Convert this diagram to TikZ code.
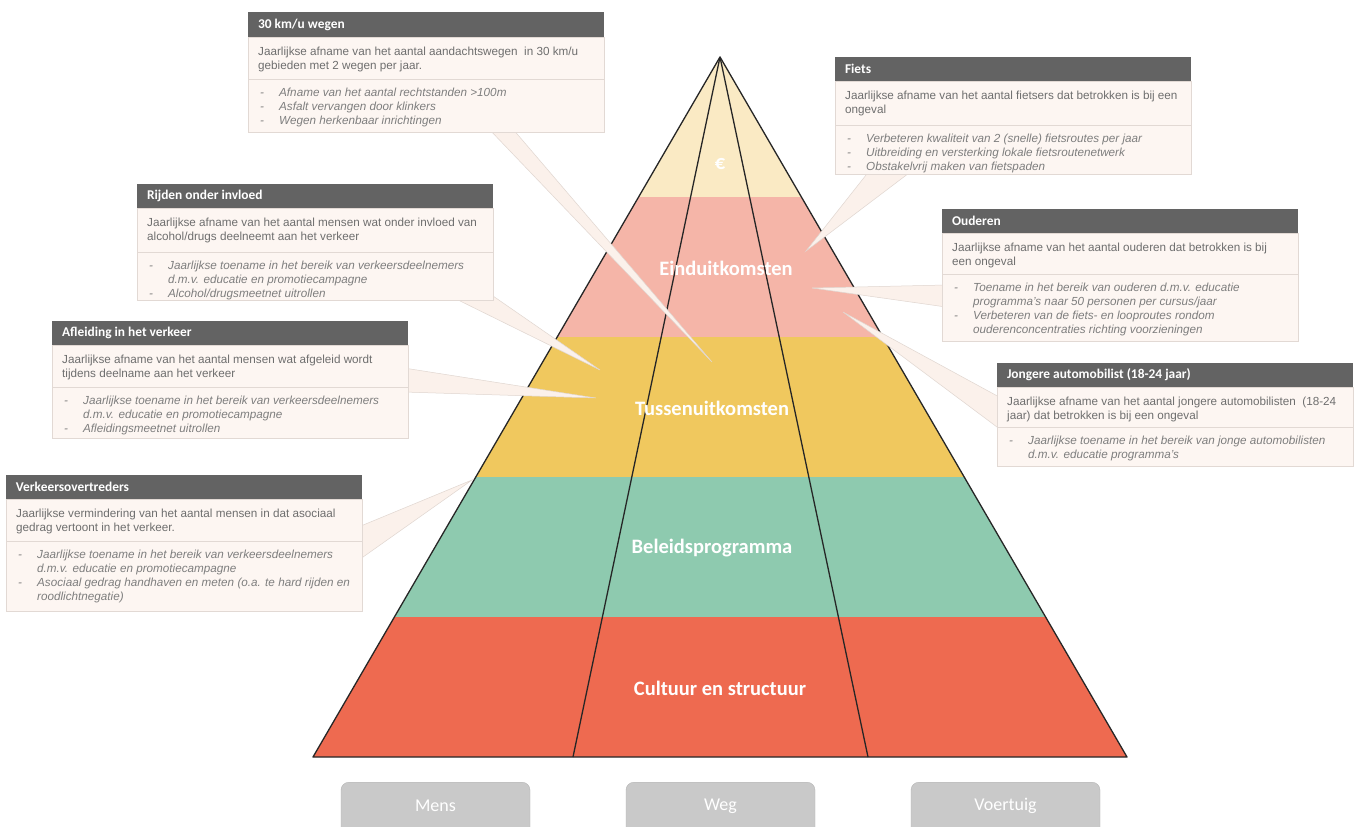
\documentclass[tikz,border=0pt]{standalone}
\usepackage{fontspec}
\setmainfont{Liberation Sans}
\newfontfamily\carlito{Carlito}
\usetikzlibrary{fit}
\definecolor{hdrgrey}{HTML}{636363}
\definecolor{bodyfill}{HTML}{FDF6F2}
\definecolor{bodyline}{HTML}{E2D9D4}
\definecolor{txtgrey}{HTML}{6E6E6E}
\definecolor{bulgrey}{HTML}{7E7E7E}
\definecolor{wedgefill}{HTML}{FBF1EB}
\definecolor{wedgeline}{HTML}{E0D6D0}
\definecolor{bandA}{HTML}{FAEAC4}
\definecolor{bandB}{HTML}{F5B5A8}
\definecolor{bandC}{HTML}{F0C85E}
\definecolor{bandD}{HTML}{8ECAAF}
\definecolor{bandE}{HTML}{EE6A50}
\definecolor{btngrey}{HTML}{C9C9C9}
\newcommand\bl[1]{\makebox[19pt][l]{-}#1}
\newcommand\bc[1]{\hspace*{19pt}#1}
\newcommand\callbox[9]{%
  \node[hdrbox, fit={(#2,#3)(#2+356,#4)}] (#1h) {};
  \node[secbox, fit={(#2,#4)(#2+356,#5)}] (#1a) {};
  \node[secbox, fit={(#2,#5)(#2+356,#6)}] (#1b) {};
  \node[titletxt, anchor=west] (#1t) at ([xshift=10pt]#1h.west) {#7};
  \node[bodytxt, anchor=north west] (#1p) at (#2+10,#4+9.5) {\rule{0pt}{9pt}#8};
  \node[bultxt, anchor=north west] (#1q) at (#2+12,#5+8) {\rule{0pt}{9pt}#9};
}
\tikzset{
  hdrbox/.style={fill=hdrgrey, draw=none, inner sep=0pt},
  secbox/.style={fill=bodyfill, draw=bodyline, line width=0.7pt, inner sep=0pt},
  titletxt/.style={font=\carlito\bfseries\fontsize{13.4}{15}\selectfont, text=white, inner sep=0pt},
  bodytxt/.style={font=\fontsize{11.7}{14}\selectfont, text=txtgrey, align=left, inner sep=0pt},
  bultxt/.style={font=\itshape\fontsize{11.7}{14}\selectfont, text=bulgrey, align=left, inner sep=0pt},
  wedge/.style={fill=wedgefill, draw=wedgeline, line width=0.5pt},
  pyrline/.style={draw=black!85, line width=1.3pt, line join=round},
  bandlabel/.style={font=\carlito\bfseries\fontsize{20.5}{23}\selectfont, text=white, inner sep=0pt},
  btn/.style={fill=btngrey, draw=btngrey!90!black, line width=0.4pt, rounded corners=8pt, minimum width=189pt, minimum height=56pt, anchor=north, inner sep=0pt},
  btntxt/.style={font=\carlito\fontsize{18}{20}\selectfont, text=white, inner sep=0pt}
}
\begin{document}
\begin{tikzpicture}[x=1pt,y=-1pt]
\useasboundingbox (0,0) rectangle (1355,827);
\clip (0,0) rectangle (1355,827);
\fill[white] (0,0) rectangle (1355,827);
% pyramid
\coordinate (A) at (720,57);
\coordinate (BL) at (313,757);
\coordinate (BR) at (1127,757);
\coordinate (M1) at (573,757);
\coordinate (M2) at (868,757);
\begin{scope}
\clip (A) -- (BL) -- (BR) -- cycle;
\fill[bandA] (300,50) rectangle (1140,197.5);
\fill[bandB] (300,197) rectangle (1140,337.5);
\fill[bandC] (300,337) rectangle (1140,477.5);
\fill[bandD] (300,477) rectangle (1140,617.5);
\fill[bandE] (300,617) rectangle (1140,760);
\end{scope}
\draw[pyrline] (A) -- (BL) -- (BR) -- cycle;
\draw[pyrline] (A) -- (M1);
\draw[pyrline] (A) -- (M2);
\node[bandlabel] (lab0) at (720,164) {€};
\node[bandlabel] (lab1) at (726,268) {Einduitkomsten};
\node[bandlabel] (lab2) at (712,408) {Tussenuitkomsten};
\node[bandlabel] (lab3) at (712,548) {Beleidsprogramma};
\node[bandlabel] (lab4) at (720,688) {Cultuur en structuur};
% wedge tips
\coordinate (t1) at (712,362);
\coordinate (t2) at (806,251);
\coordinate (t3) at (600,370);
\coordinate (t4) at (596,398);
\coordinate (t5) at (812,288);
\coordinate (t6) at (843,312);
\coordinate (t7) at (472,480);
\fill[wedge] (488,128) -- (t1) -- (512,128);
\fill[wedge] (870,170) -- (t2) -- (913,170);
\fill[wedge] (450,296) -- (t3) -- (493,296);
\fill[wedge] (404,368) -- (t4) -- (404,392);
\fill[wedge] (946,285) -- (t5) -- (946,307);
\fill[wedge] (1001,398) -- (t6) -- (1001,430);
\fill[wedge] (356,528) -- (t7) -- (356,562);
% callout boxes
\callbox{b1}{248}{12}{37}{79}{132}{30 km/u wegen}
  {Jaarlijkse afname van het aantal aandachtswegen \ in 30 km/u\\gebieden met 2 wegen per jaar.}
  {\bl{Afname van het aantal rechtstanden >100m}\\\bl{Asfalt vervangen door klinkers}\\\bl{Wegen herkenbaar inrichtingen}}
\callbox{b2}{835}{57}{81}{125}{174}{Fiets}
  {Jaarlijkse afname van het aantal fietsers dat betrokken is bij een\\ongeval}
  {\bl{Verbeteren kwaliteit van 2 (snelle) fietsroutes per jaar}\\\bl{Uitbreiding en versterking lokale fietsroutenetwerk}\\\bl{Obstakelvrij maken van fietspaden}}
\callbox{b3}{137}{184}{208}{252}{300}{Rijden onder invloed}
  {Jaarlijkse afname van het aantal mensen wat onder invloed van\\alcohol/drugs deelneemt aan het verkeer}
  {\bl{Jaarlijkse toename in het bereik van verkeersdeelnemers}\\\bc{d.m.v. educatie en promotiecampagne}\\\bl{Alcohol/drugsmeetnet uitrollen}}
\callbox{b4}{52}{321}{345}{387}{438}{Afleiding in het verkeer}
  {Jaarlijkse afname van het aantal mensen wat afgeleid wordt\\tijdens deelname aan het verkeer}
  {\bl{Jaarlijkse toename in het bereik van verkeersdeelnemers}\\\bc{d.m.v. educatie en promotiecampagne}\\\bl{Afleidingsmeetnet uitrollen}}
\callbox{b5}{942}{209}{233}{274}{341}{Ouderen}
  {Jaarlijkse afname van het aantal ouderen dat betrokken is bij\\een ongeval}
  {\bl{Toename in het bereik van ouderen d.m.v. educatie}\\\bc{programma's naar 50 personen per cursus/jaar}\\\bl{Verbeteren van de fiets- en looproutes rondom}\\\bc{ouderenconcentraties richting voorzieningen}}
\callbox{b6}{997}{363}{387}{427}{466}{Jongere automobilist (18-24 jaar)}
  {Jaarlijkse afname van het aantal jongere automobilisten \ (18-24\\jaar) dat betrokken is bij een ongeval}
  {\bl{Jaarlijkse toename in het bereik van jonge automobilisten}\\\bc{d.m.v. educatie programma's}}
\callbox{b7}{6}{475}{499}{541}{611}{Verkeersovertreders}
  {Jaarlijkse vermindering van het aantal mensen in dat asociaal\\gedrag vertoont in het verkeer.}
  {\bl{Jaarlijkse toename in het bereik van verkeersdeelnemers}\\\bc{d.m.v. educatie en promotiecampagne}\\\bl{Asociaal gedrag handhaven en meten (o.a. te hard rijden en}\\\bc{roodlichtnegatie)}}
% buttons
\node[btn] (mens) at (435.5,782) {};
\node[btn] (weg) at (720.5,782) {};
\node[btn] (voertuig) at (1005.5,782) {};
\node[btntxt] (mensT) at (435.5,806) {Mens};
\node[btntxt] (wegT) at (720.5,806) {Weg};
\node[btntxt] (voertuigT) at (1005.5,806) {Voertuig};
\end{tikzpicture}
\end{document}
